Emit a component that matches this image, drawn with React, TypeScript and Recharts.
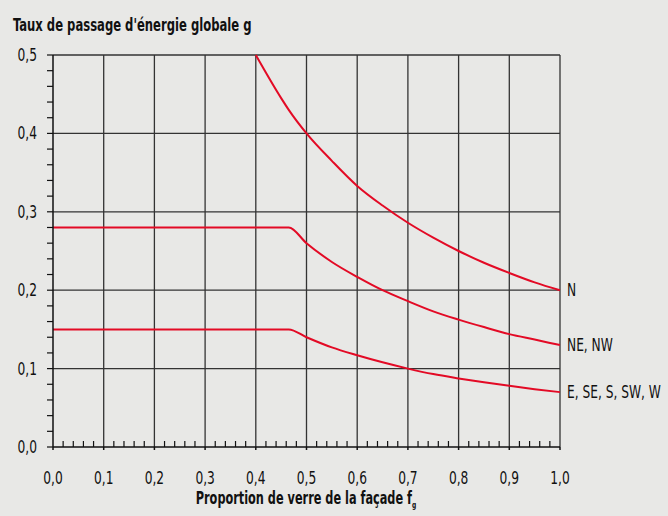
import React from 'react';
import { LineChart, Line, XAxis, YAxis, ReferenceLine } from 'recharts';

// glass proportion f_g
const fValues = [0, 0.1, 0.2, 0.3, 0.4, 0.45, 0.465, 0.5, 0.55, 0.6, 0.65, 0.7, 0.75, 0.8, 0.85, 0.9, 0.95, 1.0];
// N orientation (starts at 0.4)
const nValues = [null, null, null, null, 0.5, 0.445, 0.43, 0.4, 0.365, 0.333, 0.308, 0.286, 0.267, 0.25, 0.235, 0.222, 0.21, 0.2];
// NE, NW
const neValues = [0.28, 0.28, 0.28, 0.28, 0.28, 0.28, 0.28, 0.26, 0.236, 0.217, 0.2, 0.186, 0.173, 0.1625, 0.153, 0.144, 0.137, 0.13];
// E, SE, S, SW, W
const eValues = [0.15, 0.15, 0.15, 0.15, 0.15, 0.15, 0.15, 0.14, 0.127, 0.117, 0.108, 0.1, 0.093, 0.0875, 0.0825, 0.078, 0.0738, 0.07];

const seriesLabels = ['N', 'NE, NW', 'E, SE, S, SW, W'];

const xMajor = [0, 0.1, 0.2, 0.3, 0.4, 0.5, 0.6, 0.7, 0.8, 0.9, 1.0];
const yMajor = [0, 0.1, 0.2, 0.3, 0.4, 0.5];
const minorStep = 0.02;

const RED = '#e30a25';
const GRID = '#333';
const INK = '#111';
const FONT = '"DejaVu Sans Condensed", "Liberation Sans Narrow", sans-serif';
const NARROW = 0.8; // squeeze to look like a condensed face

const data = fValues.map((f, i) => ({
  f,
  n: nValues[i],
  ne: neValues[i],
  e: eValues[i],
}));

const xTicks: number[] = [];
for (let i = 0; i <= 50; i++) xTicks.push(Math.round(i * minorStep * 100) / 100);
const yTicks: number[] = [];
for (let i = 0; i <= 25; i++) yTicks.push(Math.round(i * minorStep * 100) / 100);

const isMajor = (v: number) => Math.abs(v * 10 - Math.round(v * 10)) < 1e-6;
const fmt = (v: number) => v.toFixed(1).replace('.', ',');

const NarrowText = ({ x, y, anchor = 'start', size = 17, bold = false, k = NARROW, children }: any) => (
  <g transform={`translate(${x},${y}) scale(${k},1)`}>
    <text x={0} y={0} textAnchor={anchor} fontSize={size} fontWeight={bold ? 'bold' : 'normal'} fill={INK} fontFamily={FONT}>
      {children}
    </text>
  </g>
);

const XTick = (props: any) => {
  const { x, y, payload } = props;
  const major = isMajor(payload.value);
  return (
    <g>
      {major ? (
        <line x1={x} x2={x} y1={y} y2={y + 3} stroke={INK} strokeWidth={1.5} />
      ) : (
        <line x1={x} x2={x} y1={y} y2={y - 6} stroke={INK} strokeWidth={1.2} />
      )}
      {major && (
        <NarrowText x={x} y={y + 37} anchor="middle">
          {fmt(payload.value)}
        </NarrowText>
      )}
    </g>
  );
};

const YTick = (props: any) => {
  const { x, y, payload } = props;
  const major = isMajor(payload.value);
  return (
    <g>
      <line x1={x} x2={x - 6} y1={y} y2={y} stroke={INK} strokeWidth={1.2} />
      {major && (
        <NarrowText x={x - 16} y={y + 6} anchor="end">
          {fmt(payload.value)}
        </NarrowText>
      )}
    </g>
  );
};

const endLabel = (text: string) => (props: any) => {
  const { x, y, index } = props;
  if (index !== fValues.length - 1) return null;
  return (
    <NarrowText x={x + 7} y={y + 6}>
      {text}
    </NarrowText>
  );
};

export default function App() {
  return (
    <div style={{ position: 'relative', width: 668, height: 516, background: '#e8e8e6' }}>
      <style>{'body{margin:0}'}</style>
      <LineChart
        width={668}
        height={516}
        data={data}
        margin={{ top: 55, right: 108, left: 13, bottom: 39 }}
      >
        <XAxis
          dataKey="f"
          type="number"
          domain={[0, 1]}
          ticks={xTicks}
          interval={0}
          tick={<XTick />}
          tickLine={false}
          tickSize={0}
          tickMargin={0}
          axisLine={{ stroke: INK, strokeWidth: 1.5 }}
          height={30}
        />
        <YAxis
          type="number"
          domain={[0, 0.5]}
          ticks={yTicks}
          interval={0}
          tick={<YTick />}
          tickLine={false}
          tickSize={0}
          tickMargin={0}
          axisLine={{ stroke: INK, strokeWidth: 1.5 }}
          width={40}
        />
        {xMajor.slice(1).map((v) => (
          <ReferenceLine key={'x' + v} x={v} stroke={GRID} strokeWidth={1.3} />
        ))}
        {yMajor.slice(1).map((v) => (
          <ReferenceLine key={'y' + v} y={v} stroke={GRID} strokeWidth={1.3} />
        ))}
        <Line
          dataKey="n"
          stroke={RED}
          strokeWidth={2}
          dot={false}
          type="monotone"
          isAnimationActive={false}
          label={endLabel(seriesLabels[0])}
        />
        <Line
          dataKey="ne"
          stroke={RED}
          strokeWidth={2}
          dot={false}
          type="monotone"
          isAnimationActive={false}
          label={endLabel(seriesLabels[1])}
        />
        <Line
          dataKey="e"
          stroke={RED}
          strokeWidth={2}
          dot={false}
          type="monotone"
          isAnimationActive={false}
          label={endLabel(seriesLabels[2])}
        />
      </LineChart>
      <svg width={668} height={516} style={{ position: 'absolute', left: 0, top: 0, pointerEvents: 'none' }}>
        <NarrowText x={13} y={31} size={17} bold k={0.76}>
          Taux de passage d'énergie globale g
        </NarrowText>
        <NarrowText x={306} y={504} size={17} bold k={0.74} anchor="middle">
          Proportion de verre de la façade f
          <tspan fontSize={9} dy={4}>g</tspan>
        </NarrowText>
      </svg>
    </div>
  );
}
